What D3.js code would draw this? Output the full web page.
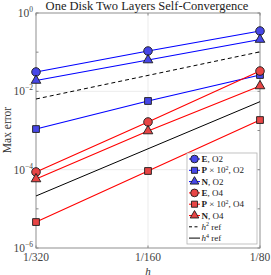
<!DOCTYPE html>
<html>
<head>
<meta charset="utf-8">
<script src="https://cdn.jsdelivr.net/npm/d3@7"></script>
<style>
  body { margin: 0; background: #fff; }
  text { font-family: "Liberation Serif", "DejaVu Serif", serif; }
</style>
</head>
<body>
<svg width="271" height="275"></svg>
<script>
// grid sizes
var hVals = [1/320, 1/160, 1/80];
var hLabels = ["1/320", "1/160", "1/80"];

// errors (P already scaled by 10^2)
var errE2 = [0.0312, 0.107, 0.347];
var errP2 = [0.00109, 0.00567, 0.0261];
var errN2 = [0.0189, 0.063, 0.21];
var errE4 = [8.73e-5, 1.65e-3, 0.033];
var errP4 = [4.6e-6, 9.25e-5, 1.85e-3];
var errN4 = [5.78e-5, 9.7e-4, 0.0137];
var refH2 = [6.37e-3, 0.0255, 0.102];
var refH4 = [2.13e-5, 3.41e-4, 5.45e-3];

var yTicks = [1e-6, 1e-5, 1e-4, 1e-3, 1e-2, 1e-1, 1];
var yLabelTicks = [1e-6, 1e-4, 1e-2, 1];

var svg = d3.select("svg"),
    mLeft = 36, mRight = 260, mTop = 13, mBottom = 248;

var x = d3.scaleLog().domain([1/320, 1/80]).range([mLeft, mRight]);
var y = d3.scaleLog().domain([1e-6, 1]).range([mBottom, mTop]);

var blue = "#0000ff", red = "#ff0000";
var blueFill = "#4747e8", redFill = "#e84545";

// grid
svg.selectAll(".gy").data(yLabelTicks).enter().append("line")
    .attr("x1", mLeft).attr("x2", mRight)
    .attr("y1", function(d) { return y(d); }).attr("y2", function(d) { return y(d); })
    .attr("stroke", "#e6e6e6").attr("stroke-width", 0.8);
svg.selectAll(".gx").data(hVals).enter().append("line")
    .attr("x1", function(d) { return x(d); }).attr("x2", function(d) { return x(d); })
    .attr("y1", mTop).attr("y2", mBottom)
    .attr("stroke", "#e6e6e6").attr("stroke-width", 0.8);

// axis box
svg.append("rect")
    .attr("x", mLeft).attr("y", mTop)
    .attr("width", mRight - mLeft).attr("height", mBottom - mTop)
    .attr("fill", "none").attr("stroke", "#999").attr("stroke-width", 1);

// inward ticks
yTicks.forEach(function(t) {
  svg.append("line").attr("x1", mLeft).attr("x2", mLeft + 2.5)
      .attr("y1", y(t)).attr("y2", y(t)).attr("stroke", "#888");
  svg.append("line").attr("x1", mRight).attr("x2", mRight - 2.5)
      .attr("y1", y(t)).attr("y2", y(t)).attr("stroke", "#888");
});
hVals.forEach(function(t) {
  svg.append("line").attr("x1", x(t)).attr("x2", x(t))
      .attr("y1", mBottom).attr("y2", mBottom - 2.5).attr("stroke", "#888");
  svg.append("line").attr("x1", x(t)).attr("x2", x(t))
      .attr("y1", mTop).attr("y2", mTop + 2.5).attr("stroke", "#888");
});

// tick labels
var yl = svg.selectAll(".yl").data(yLabelTicks).enter().append("text")
    .attr("x", mLeft - 3).attr("y", function(d) { return y(d) + 4; })
    .attr("text-anchor", "end").attr("font-size", 11.5).attr("fill", "#444");
yl.append("tspan").text("10");
yl.append("tspan").attr("dy", -5).attr("font-size", 7.5)
    .text(function(d) { var e = Math.round(Math.log10(d)); return e === 0 ? "0" : "\u2212" + (-e); });

svg.selectAll(".xl").data(hVals).enter().append("text")
    .attr("x", function(d) { return x(d); }).attr("y", 261)
    .attr("text-anchor", "middle").attr("font-size", 11.5).attr("fill", "#444")
    .text(function(d, i) { return hLabels[i]; });

// axis titles
svg.append("text").attr("x", x(1/160)).attr("y", 274.5)
    .attr("text-anchor", "middle").attr("font-size", 11).attr("font-style", "italic")
    .attr("fill", "#333").text("h");
svg.append("text").attr("transform", "translate(11,130) rotate(-90)")
    .attr("text-anchor", "middle").attr("font-size", 11.5).attr("fill", "#333").text("Max error");
svg.append("text").attr("x", 147).attr("y", 10)
    .attr("text-anchor", "middle").attr("font-size", 12.5).attr("fill", "#222")
    .text("One Disk Two Layers Self-Convergence");

var line = d3.line()
    .x(function(d, i) { return x(hVals[i]); })
    .y(function(d) { return y(d); });

// reference lines
svg.append("path").attr("d", line(refH2)).attr("fill", "none")
    .attr("stroke", "#000").attr("stroke-width", 1).attr("stroke-dasharray", "4,3");
svg.append("path").attr("d", line(refH4)).attr("fill", "none")
    .attr("stroke", "#000").attr("stroke-width", 1);

var series = [
  {vals: errE2, col: blue, fill: blueFill, sym: d3.symbolCircle, size: 58},
  {vals: errP2, col: blue, fill: blueFill, sym: d3.symbolSquare, size: 46},
  {vals: errN2, col: blue, fill: blueFill, sym: d3.symbolTriangle, size: 40},
  {vals: errE4, col: red, fill: redFill, sym: d3.symbolCircle, size: 58},
  {vals: errP4, col: red, fill: redFill, sym: d3.symbolSquare, size: 46},
  {vals: errN4, col: red, fill: redFill, sym: d3.symbolTriangle, size: 40}
];

series.forEach(function(s) {
  svg.append("path").attr("d", line(s.vals)).attr("fill", "none")
      .attr("stroke", s.col).attr("stroke-width", 1.1);
});
series.forEach(function(s) {
  svg.selectAll(null).data(s.vals).enter().append("path")
      .attr("d", d3.symbol().type(s.sym).size(s.size))
      .attr("transform", function(d, i) { return "translate(" + x(hVals[i]) + "," + y(d) + ")"; })
      .attr("fill", s.fill).attr("stroke", "#1a1a1a").attr("stroke-width", 0.9);
});

// legend
var lg = svg.append("g");
lg.append("rect").attr("x", 187).attr("y", 153).attr("width", 70).attr("height", 91)
    .attr("fill", "#fff").attr("stroke", "#b3b3b3").attr("stroke-width", 0.8);

var legendRows = [
  {b: "E", rest: ", O2", s: series[0]},
  {b: "P", rest: " \u00d7 10", sup: "2", tail: ", O2", s: series[1]},
  {b: "N", rest: ", O2", s: series[2]},
  {b: "E", rest: ", O4", s: series[3]},
  {b: "P", rest: " \u00d7 10", sup: "2", tail: ", O4", s: series[4]},
  {b: "N", rest: ", O4", s: series[5]},
  {it: "h", sup: "2", tail: " ref", dash: true},
  {it: "h", sup: "4", tail: " ref", solid: true}
];

legendRows.forEach(function(r, i) {
  var yy = 159 + i * 11.3;
  var ln = lg.append("line").attr("x1", 189).attr("x2", 200).attr("y1", yy).attr("y2", yy)
      .attr("stroke-width", 1);
  if (r.s) {
    ln.attr("stroke", r.s.col);
    lg.append("path").attr("d", d3.symbol().type(r.s.sym).size(r.s.size * 0.8))
        .attr("transform", "translate(194.5," + yy + ")")
        .attr("fill", r.s.fill).attr("stroke", "#1a1a1a").attr("stroke-width", 0.9);
  } else {
    ln.attr("stroke", "#000");
    if (r.dash) ln.attr("stroke-dasharray", "3,2.5");
  }
  var t = lg.append("text").attr("x", 201.5).attr("y", yy + 3).attr("font-size", 9).attr("fill", "#222");
  if (r.b) t.append("tspan").attr("font-weight", "bold").text(r.b);
  if (r.it) t.append("tspan").attr("font-style", "italic").text(r.it);
  if (r.rest) t.append("tspan").text(r.rest);
  if (r.sup) {
    t.append("tspan").attr("dy", -3.5).attr("font-size", 6).text(r.sup);
    t.append("tspan").attr("dy", 3.5).text(r.tail);
  }
});
</script>
</body>
</html>
